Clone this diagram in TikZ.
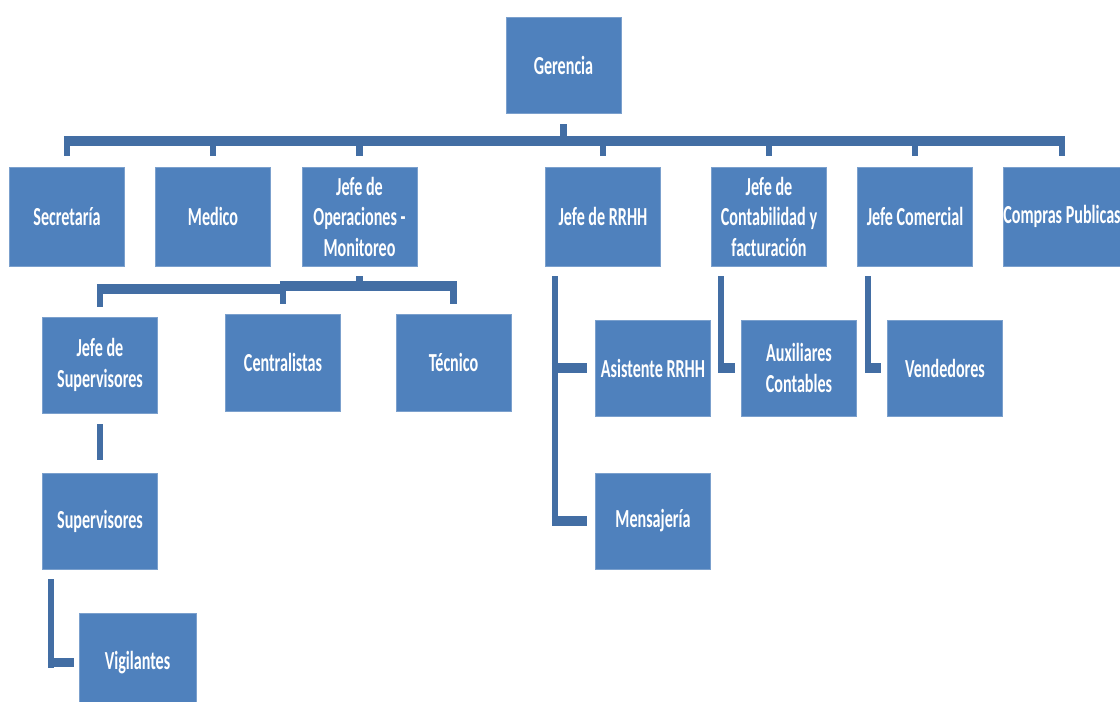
\documentclass[tikz,border=0pt]{standalone}
\usepackage{fontspec}
\usetikzlibrary{calc}
\newfontfamily\boxfont[FakeStretch=0.62]{Carlito}
\definecolor{boxblue}{HTML}{4F81BD}
\definecolor{linkblue}{HTML}{436EA4}
\tikzset{
  orgbox/.style={fill=boxblue, draw=boxblue!75!white, line width=0.6pt, text=white,
    minimum width=115pt, minimum height=97pt, inner sep=0pt, align=center,
    font={\boxfont\bfseries\fontsize{26}{30.5}\selectfont}},
  hbar/.style={draw=linkblue, line width=9.5pt},
  vbar/.style={draw=linkblue, line width=6.5pt},
}
\begin{document}
\begin{tikzpicture}[x=1pt,y=-1pt]
\useasboundingbox (0,0) rectangle (1120,702);
\clip (0,0) rectangle (1120,702);
% level 0
\node[orgbox, minimum height=96pt] (ger) at (563.5,65) {Gerencia};
% level 1
\node[orgbox, minimum height=99pt] (sec) at (67,216.5) {Secretaría};
\node[orgbox, minimum height=99pt] (med) at (213,216.5) {Medico};
\node[orgbox, minimum height=99pt] (jop) at (359.5,216.5) {Jefe de\\Operaciones -\\Monitoreo};
\node[orgbox, minimum height=99pt] (rrhh) at (603,216.5) {Jefe de RRHH};
\node[orgbox, minimum height=99pt] (cont) at (769,216.5) {Jefe de\\Contabilidad y\\facturación};
\node[orgbox, minimum height=99pt] (com) at (915,216.5) {Jefe Comercial};
\node[orgbox, minimum height=99pt] (comp) at (1062,216.5) {Compras Publicas};
% level 2
\node[orgbox, minimum height=96pt] (jsup) at (100,365) {Jefe de\\Supervisores};
\node[orgbox] (cen) at (283,362.5) {Centralistas};
\node[orgbox] (tec) at (453.5,362.5) {Técnico};
\node[orgbox, minimum height=96pt] (asi) at (653,368) {Asistente RRHH};
\node[orgbox, minimum height=96pt] (aux) at (799,368) {Auxiliares\\Contables};
\node[orgbox, minimum height=96pt] (ven) at (945,368) {Vendedores};
% level 3+
\node[orgbox, minimum height=96pt] (sup) at (100,521) {Supervisores};
\node[orgbox, minimum height=96pt] (men) at (653,521) {Mensajería};
\node[orgbox, minimum height=99pt, minimum width=117pt] (vig) at (137.5,662.5) {Vigilantes};

% top bus
\coordinate (topbus) at (0,141);
\draw[vbar] ([yshift=-11pt]ger.south) -- (ger.south |- topbus);
\draw[hbar] ([xshift=-3.25pt]sec.north |- topbus) -- ([xshift=3.25pt]comp.north |- topbus);
\foreach \n in {sec,med,jop,rrhh,cont,com,comp}
  \draw[vbar] (\n.north |- topbus) -- ([yshift=11pt]\n.north);

% operations sub-bus
\coordinate (sbA) at (0,289);
\coordinate (sbB) at (0,286);
\draw[vbar] ([yshift=-10pt]jop.south) -- (jop.south |- sbB);
\draw[hbar] ([xshift=-3.25pt]jsup.north |- sbA) -- ([xshift=3.25pt]cen.north |- sbA);
\draw[hbar] ([xshift=-3.25pt]cen.north |- sbB) -- ([xshift=3.25pt]tec.north |- sbB);
\draw[vbar] (jsup.north |- sbA) -- ([yshift=10pt]jsup.north);
\draw[vbar] (cen.north |- sbB) -- ([yshift=10pt]cen.north);
\draw[vbar] (tec.north |- sbB) -- ([yshift=10pt]tec.north);

% supervisors chain
\draw[vbar] ([yshift=-11pt]jsup.south) -- ([yshift=13pt]sup.north);
\coordinate (vigx) at (51,0);
\coordinate (supb) at ([yshift=-10pt]sup.south);
\draw[vbar] (supb -| vigx) -- ([yshift=-5pt]vig.west -| vigx);
\draw[hbar] ([xshift=-3.25pt]vigx |- vig.west) -- ([xshift=-5pt]vig.west);

% RRHH
\coordinate (rrx) at (555,0);
\coordinate (rrb) at ([yshift=-10pt]rrhh.south);
\draw[vbar] (rrb -| rrx) -- ([yshift=-4pt]men.west -| rrx);
\draw[hbar] ([xshift=-3.25pt]rrx |- asi.west) -- ([xshift=-8pt]asi.west);
\draw[hbar] ([xshift=-3.25pt]rrx |- men.west) -- ([xshift=-8pt]men.west);

% Contabilidad
\coordinate (ctx) at (721,0);
\coordinate (ctb) at ([yshift=-10pt]cont.south);
\draw[vbar] (ctb -| ctx) -- ([yshift=-4pt]aux.west -| ctx);
\draw[hbar] ([xshift=-3.25pt]ctx |- aux.west) -- ([xshift=-6pt]aux.west);

% Comercial
\coordinate (cmx) at (868,0);
\coordinate (cmb) at ([yshift=-10pt]com.south);
\draw[vbar] (cmb -| cmx) -- ([yshift=-4pt]ven.west -| cmx);
\draw[hbar] ([xshift=-3.25pt]cmx |- ven.west) -- ([xshift=-6pt]ven.west);
\end{tikzpicture}
\end{document}
